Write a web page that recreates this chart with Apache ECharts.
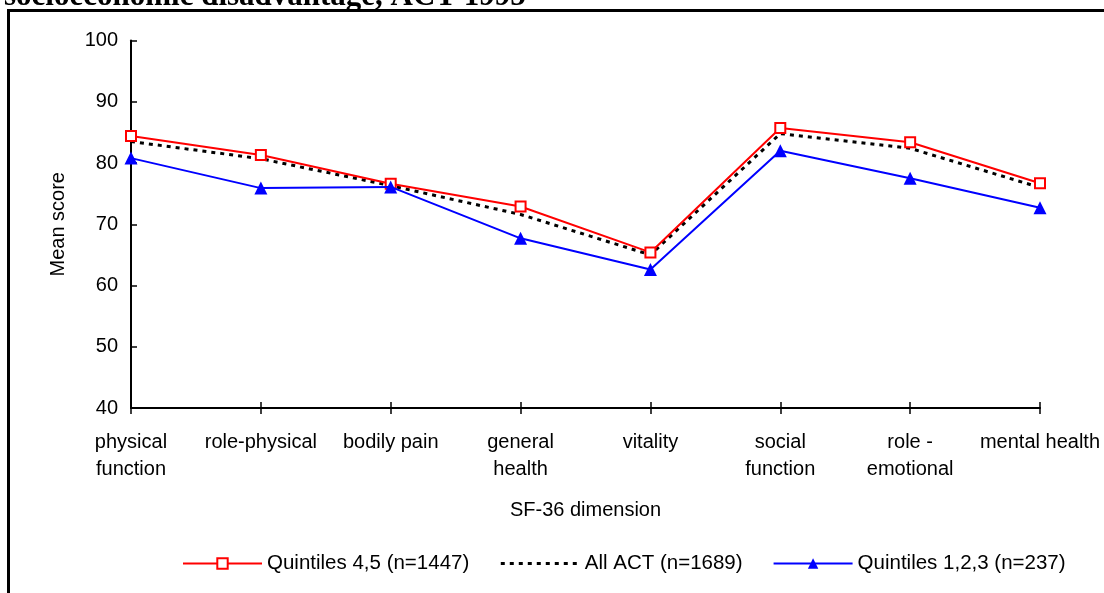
<!DOCTYPE html>
<html>
<head>
<meta charset="utf-8">
<script src="https://cdn.jsdelivr.net/npm/echarts@6/dist/echarts.min.js"></script>
<style>
  html, body { margin: 0; padding: 0; background: #fff; }
  #main { width: 1104px; height: 593px; }
</style>
</head>
<body>
<div id="main"></div>
<script>
// SF-36 dimensions on the x axis
const dimensions = [
  "physical\nfunction", "role-physical", "bodily pain", "general\nhealth",
  "vitality", "social\nfunction", "role -\nemotional", "mental health",
];

// mean scores
const quintiles45 = [84.4, 81.3, 76.6, 72.9, 65.4, 85.7, 83.4, 76.7];
const allAct = [83.5, 80.7, 76.3, 71.6, 65.0, 84.8, 82.4, 76.0];
const quintiles123 = [80.8, 75.9, 76.1, 67.7, 62.6, 82.0, 77.5, 72.7];

const seriesNames = ["Quintiles 4,5 (n=1447)", "All ACT (n=1689)", "Quintiles 1,2,3 (n=237)"];

const font = "Liberation Sans";

var chartDom = document.getElementById("main");
var myChart = echarts.init(chartDom);
var option;

option = {
  backgroundColor: "#fff",
  animation: false,
  textStyle: { fontFamily: font, color: "#000" },
  graphic: [
    {
      // title is cut off at the top of the picture
      type: "text",
      left: 4,
      top: -19,
      style: {
        text: "socioeconomic disadvantage, ACT 1995",
        font: 'bold 31px "Liberation Serif"',
        fill: "#000",
      },
    },
    {
      type: "rect",
      shape: { x: 8.5, y: 10.5, width: 1200, height: 700 },
      style: { fill: null, stroke: "#000", lineWidth: 3 },
      silent: true,
    },
  ],
  grid: { left: 131, right: 64, top: 40.5, bottom: 185 },
  legend: {
    left: 177,
    top: 548,
    itemWidth: 79,
    itemHeight: 13,
    itemGap: 30,
    textStyle: { fontSize: 20.5, fontFamily: font, color: "#000" },
    data: [
      seriesNames[0],
      // dotted line only, hide the default legend dot
      {
        name: seriesNames[1],
        itemStyle: { opacity: 0, borderWidth: 0 },
        lineStyle: { width: 3, type: [4, 5] },
      },
      seriesNames[2],
    ],
  },
  xAxis: [
    {
      type: "category",
      data: dimensions,
      boundaryGap: false,
      name: "SF-36 dimension",
      nameLocation: "middle",
      nameGap: 92,
      nameTextStyle: { fontSize: 20, color: "#000" },
      axisLine: { lineStyle: { color: "#000", width: 2 } },
      axisTick: { length: 6, lineStyle: { color: "#000", width: 1.5 } },
      axisLabel: {
        fontSize: 20,
        color: "#000",
        margin: 21,
        lineHeight: 27,
        interval: 0,
      },
      splitLine: { show: false },
    },
    {
      // second copy of the axis gives the ticks that cross the line
      type: "category",
      data: dimensions,
      boundaryGap: false,
      position: "bottom",
      axisLine: { show: false },
      axisTick: { inside: true, length: 6, lineStyle: { color: "#000", width: 1.5 } },
      axisLabel: { show: false },
      splitLine: { show: false },
    },
  ],
  yAxis: {
    type: "value",
    min: 40,
    max: 100,
    interval: 10,
    name: "Mean score",
    nameLocation: "middle",
    nameGap: 63,
    nameRotate: 90,
    nameTextStyle: { fontSize: 20, color: "#000" },
    axisLine: { show: true, lineStyle: { color: "#000", width: 2 } },
    axisTick: { show: true, inside: true, length: 6, lineStyle: { color: "#000", width: 1.5 } },
    axisLabel: { fontSize: 20, color: "#000", margin: 13 },
    splitLine: { show: false },
  },
  series: [
    {
      name: seriesNames[0],
      type: "line",
      data: quintiles45,
      symbol: "rect",
      symbolSize: 10,
      lineStyle: { color: "#ff0000", width: 2 },
      itemStyle: { color: "#fff", borderColor: "#ff0000", borderWidth: 2 },
      z: 3,
    },
    {
      name: seriesNames[1],
      type: "line",
      data: allAct,
      symbol: "none",
      lineStyle: { color: "#000", width: 3, type: [4, 5] },
      itemStyle: { color: "#000" },
      z: 2,
    },
    {
      name: seriesNames[2],
      type: "line",
      data: quintiles123,
      symbol: "triangle",
      symbolSize: 13,
      lineStyle: { color: "#0000ff", width: 2 },
      itemStyle: { color: "#0000ff" },
      z: 4,
    },
  ],
};

option && myChart.setOption(option);
</script>
</body>
</html>
